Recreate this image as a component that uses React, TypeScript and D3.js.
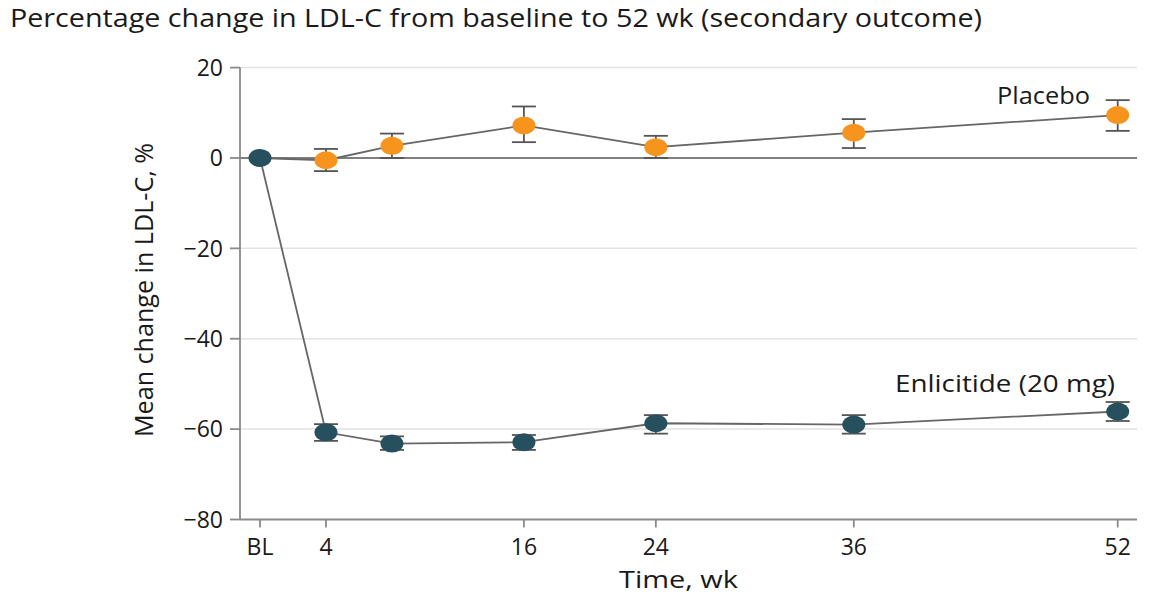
import React from "react";
import * as d3 from "d3";

const weeks = [0, 4, 8, 16, 24, 36, 52];
const enlicitideMean = [0, -60.7, -63.2, -62.9, -58.7, -59.0, -56.1];
const enlicitideLower = [0, -62.6, -64.6, -64.6, -61.0, -61.0, -58.2];
const enlicitideUpper = [0, -58.9, -61.6, -61.3, -56.9, -56.9, -54.0];
const placeboMean = [0, -0.5, 2.7, 7.2, 2.4, 5.6, 9.5];
const placeboLower = [0, -2.9, 0.0, 3.5, 0.0, 2.2, 6.0];
const placeboUpper = [0, 2.0, 5.4, 11.4, 4.9, 8.6, 12.8];
const xTickValues = [0, 4, 16, 24, 36, 52];
const xTickLabels = ["BL", "4", "16", "24", "36", "52"];
const yTickValues = [20, 0, -20, -40, -60, -80];

const TEAL = "#27505e";
const ORANGE = "#f7941d";
const FONT = "'Open Sans', 'Noto Sans', sans-serif";

export default function App() {
  const W = 1164, H = 599;
  const x = d3.scaleLinear().domain([0, 52]).range([260, 1117.7]);
  const y = d3.scaleLinear().domain([-80, 20]).range([519.5, 67.6]);
  const axisLeft = 240, axisRight = 1137;
  const line = d3.line<number>().x((_, i) => x(weeks[i])).y((d) => y(d));

  const series = [
    { mean: placeboMean, lo: placeboLower, hi: placeboUpper, color: ORANGE },
    { mean: enlicitideMean, lo: enlicitideLower, hi: enlicitideUpper, color: TEAL },
  ];

  return (
    <svg width={W} height={H} style={{ position: "absolute", left: 0, top: 0, background: "#fff" }} fontFamily={FONT}>
      <text x={10} y={27} fontSize={26} fill="#1a1a1a" textLength={972} lengthAdjust="spacingAndGlyphs">
        Percentage change in LDL-C from baseline to 52 wk (secondary outcome)
      </text>

      {/* grid */}
      {yTickValues.filter((v) => v !== 0 && v !== -80).map((v) => (
        <line key={v} x1={axisLeft} x2={axisRight} y1={y(v)} y2={y(v)} stroke="#e2e2e2" strokeWidth={1.5} />
      ))}
      <line x1={axisLeft} x2={axisRight} y1={y(0)} y2={y(0)} stroke="#555" strokeWidth={1.5} />

      {/* axes */}
      <line x1={axisLeft} x2={axisLeft} y1={y(20)} y2={y(-80)} stroke="#8a8a8a" strokeWidth={1.8} />
      <line x1={axisLeft} x2={axisRight} y1={y(-80)} y2={y(-80)} stroke="#8a8a8a" strokeWidth={1.8} />
      {yTickValues.map((v) => (
        <g key={v}>
          <line x1={axisLeft - 10} x2={axisLeft} y1={y(v)} y2={y(v)} stroke="#8a8a8a" strokeWidth={1.8} />
          <text x={223} y={y(v)} dy="0.36em" textAnchor="end" fontSize={23} fill="#1a1a1a">
            {v < 0 ? "\u2212" + Math.abs(v) : String(v)}
          </text>
        </g>
      ))}
      {xTickValues.map((v, i) => (
        <g key={v}>
          <line x1={x(v)} x2={x(v)} y1={y(-80)} y2={y(-80) + 8} stroke="#8a8a8a" strokeWidth={1.8} />
          <text x={x(v)} y={555} textAnchor="middle" fontSize={23} fill="#1a1a1a">
            {xTickLabels[i]}
          </text>
        </g>
      ))}
      <text x={619} y={588} fontSize={24} fill="#1a1a1a" textLength={119} lengthAdjust="spacingAndGlyphs">Time, wk</text>
      <text transform={`translate(153,290) rotate(-90)`} textAnchor="middle" fontSize={25} fill="#1a1a1a" textLength={294} lengthAdjust="spacingAndGlyphs">
        Mean change in LDL-C, %
      </text>

      {/* lines */}
      {series.map((s, k) => (
        <path key={k} d={line(s.mean) || ""} fill="none" stroke="#666" strokeWidth={1.8} />
      ))}

      {/* error bars */}
      {series.map((s, k) =>
        s.mean.map((m, i) =>
          i === 0 ? null : (
            <g key={`${k}-${i}`} stroke="#555" strokeWidth={1.8}>
              <line x1={x(weeks[i])} x2={x(weeks[i])} y1={y(s.lo[i])} y2={y(s.hi[i])} />
              <line x1={x(weeks[i]) - 12} x2={x(weeks[i]) + 12} y1={y(s.lo[i])} y2={y(s.lo[i])} />
              <line x1={x(weeks[i]) - 12} x2={x(weeks[i]) + 12} y1={y(s.hi[i])} y2={y(s.hi[i])} />
            </g>
          )
        )
      )}

      {/* markers */}
      {series.map((s, k) =>
        s.mean.map((m, i) =>
          i === 0 && k === 0 ? null : (
            <ellipse key={`m${k}-${i}`} cx={x(weeks[i])} cy={y(m)} rx={11.5} ry={9} fill={s.color} />
          )
        )
      )}

      <text x={997} y={104} fontSize={24} fill="#1a1a1a" textLength={93} lengthAdjust="spacingAndGlyphs">Placebo</text>
      <text x={895} y={392} fontSize={24} fill="#1a1a1a" textLength={220} lengthAdjust="spacingAndGlyphs">Enlicitide (20 mg)</text>
    </svg>
  );
}
